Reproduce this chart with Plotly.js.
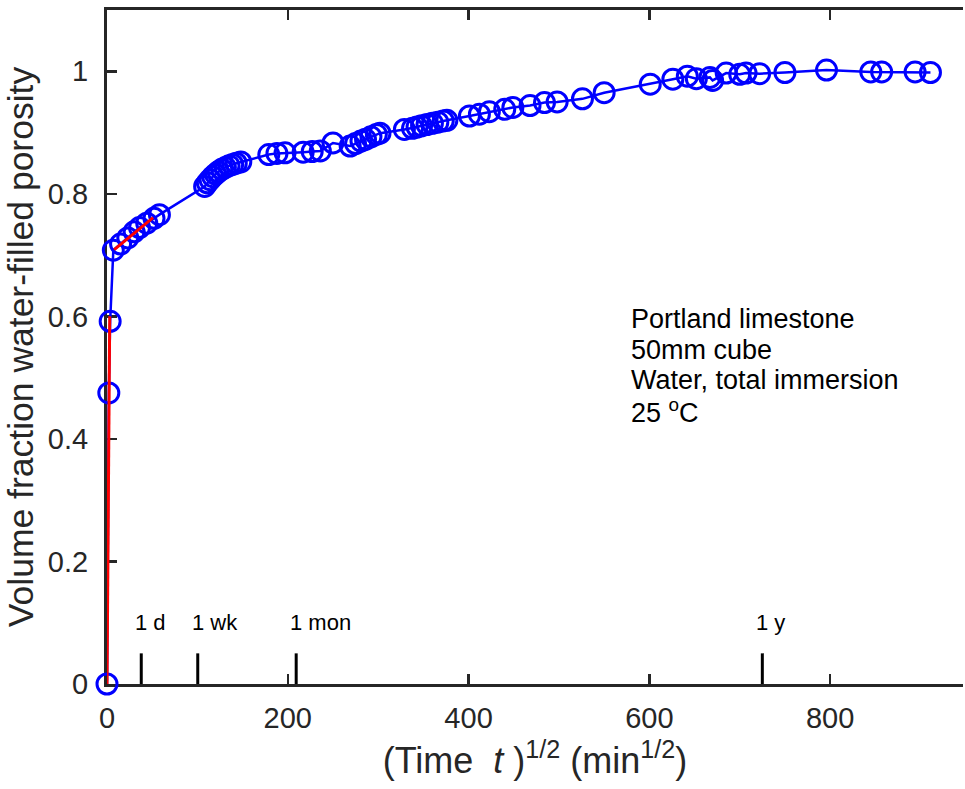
<!DOCTYPE html>
<html>
<head>
<meta charset="utf-8">
<script src="https://cdn.plot.ly/plotly-3.0.1.min.js"></script>
<style>html,body{margin:0;padding:0;overflow:hidden;background:#fff}</style>
</head>
<body>
<div id="chart" style="width:965px;height:789px"></div>
<script>
// (time)^1/2 in min^1/2
var sqrtTime = [0, 2, 3.5, 7, 15, 23, 30, 36, 44, 52, 58,
  108, 111, 114, 117, 120, 123, 127, 131, 135, 139, 143, 148,
  179, 188, 197, 217, 227, 236, 250, 269, 275, 281, 286, 292, 298, 302,
  329, 338, 343, 348, 354, 360, 366, 372, 376,
  401, 412, 423, 440, 449, 468, 484, 498, 526, 550, 601, 626, 642, 652, 667, 670, 685, 700, 707, 722, 750, 796, 845, 857, 894, 911];
var fraction = [0, 0.475, 0.592, 0.708, 0.718, 0.728, 0.738, 0.745, 0.752, 0.76, 0.766,
  0.812, 0.818, 0.823, 0.828, 0.832, 0.836, 0.84, 0.843, 0.846, 0.848, 0.85, 0.852,
  0.864, 0.866, 0.867, 0.868, 0.869, 0.87, 0.883, 0.878, 0.882, 0.886, 0.889, 0.893, 0.897, 0.899,
  0.905, 0.907, 0.909, 0.911, 0.913, 0.915, 0.917, 0.919, 0.92,
  0.927, 0.93, 0.934, 0.938, 0.941, 0.944, 0.949, 0.95, 0.955, 0.965, 0.979, 0.987, 0.992, 0.988, 0.99, 0.985, 0.997, 0.995, 0.997, 0.996, 0.998, 1.002, 0.999, 0.999, 0.999, 0.998];

// red fitted segments
var fit1X = [0, 3];
var fit1Y = [0, 0.6];
var fit2X = [8, 51];
var fit2Y = [0.709, 0.761];

// time reference marks
var markLabels = ["1 d", "1 wk", "1 mon", "1 y"];
var markSqrtMin = [37.9, 100.4, 209.3, 725];
var markHeight = 0.05;
var markLabelY = 0.1;

// info text
var infoLines = ["Portland limestone", "50mm cube", "Water, total immersion", "25 <sup>o</sup>C"];
var infoX = 577;
var infoY = 0.595;

var markX = [], markY = [];
for (var i = 0; i < markSqrtMin.length; i++) {
  markX.push(markSqrtMin[i], markSqrtMin[i], null);
  markY.push(0, markHeight, null);
}

var traces = [
  {x: markX, y: markY, mode: 'lines', line: {color: '#000', width: 3}, hoverinfo: 'skip', cliponaxis: false},
  {x: sqrtTime, y: fraction, mode: 'lines+markers',
   line: {color: '#0000ff', width: 2.5},
   marker: {symbol: 'circle-open', size: 20, color: '#0000ff', line: {width: 3, color: '#0000ff'}},
   cliponaxis: false},
  {x: fit1X.concat([null]).concat(fit2X), y: fit1Y.concat([null]).concat(fit2Y), mode: 'lines',
   line: {color: '#ff0000', width: 3}, cliponaxis: false}
];

var annotations = [];
for (var j = 0; j < markLabels.length; j++) {
  annotations.push({x: markSqrtMin[j], y: markLabelY, xref: 'x', yref: 'y', text: markLabels[j],
    showarrow: false, xanchor: 'left', yanchor: 'middle', xshift: -8,
    font: {family: 'Liberation Sans, Arial, sans-serif', size: 22, color: '#000'}});
}
for (var k = 0; k < infoLines.length; k++) {
  annotations.push({x: infoX, y: infoY, xref: 'x', yref: 'y', text: infoLines[k],
    showarrow: false, xanchor: 'left', yanchor: 'middle', yshift: -30.5 * k,
    font: {family: 'Liberation Sans, Arial, sans-serif', size: 27, color: '#000'}});
}

var axisFont = {family: 'Liberation Sans, Arial, sans-serif', size: 29, color: '#262626'};

var layout = {
  width: 965, height: 789,
  margin: {l: 107, r: 2, t: 10, b: 105},
  paper_bgcolor: '#fff', plot_bgcolor: '#fff',
  showlegend: false,
  font: {family: 'Liberation Sans, Arial, sans-serif', color: '#262626'},
  xaxis: {
    range: [0, 947], tick0: 0, dtick: 200, ticks: 'inside', ticklen: 10, tickwidth: 2.5,
    tickcolor: '#262626', showline: true, linecolor: '#262626', linewidth: 3,
    mirror: 'ticks', showgrid: false, zeroline: false, layer: 'below traces',
    tickfont: axisFont, ticklabelstandoff: 6,
    title: {text: '(Time  <i>t</i> )<sup>1/2</sup> (min<sup>1/2</sup>)', font: {family: 'Liberation Sans, Arial, sans-serif', size: 36, color: '#262626'}, standoff: 16}
  },
  yaxis: {
    range: [0, 1.1], tick0: 0, dtick: 0.2, ticks: 'inside', ticklen: 10, tickwidth: 2.5,
    tickcolor: '#262626', showline: true, linecolor: '#262626', linewidth: 3,
    mirror: false, showgrid: false, zeroline: false, layer: 'below traces',
    tickfont: axisFont, ticklabelstandoff: 10,
    title: {text: 'Volume fraction water-filled porosity', font: {family: 'Liberation Sans, Arial, sans-serif', size: 35.5, color: '#262626'}, standoff: 4}
  },
  annotations: annotations
};

Plotly.newPlot('chart', traces, layout, {displayModeBar: false, staticPlot: true});
</script>
</body>
</html>
